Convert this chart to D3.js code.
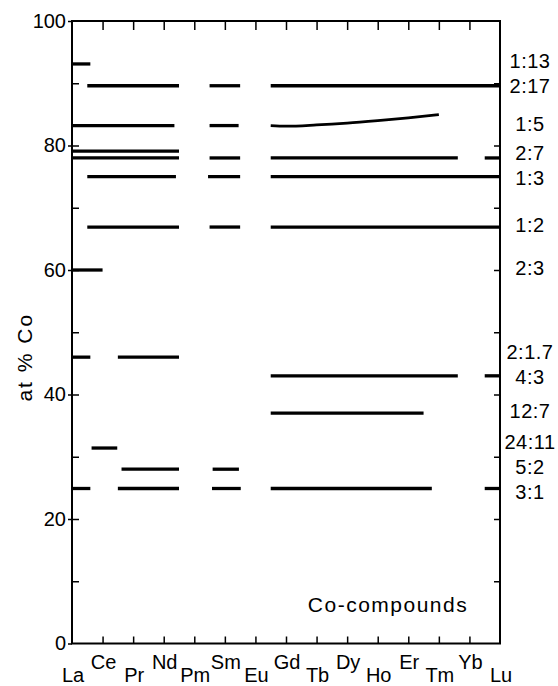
<!DOCTYPE html>
<html>
<head>
<meta charset="utf-8">
<script src="https://cdn.jsdelivr.net/npm/d3@7/dist/d3.min.js"></script>
<style>
  html, body { margin: 0; padding: 0; background: #fff; }
  svg { display: block; font-family: "Liberation Sans", Arial, sans-serif; }
</style>
</head>
<body>
<svg id="chart" width="558" height="686"></svg>
<script>
// ---- data ----
const elements = ["La","Ce","Pr","Nd","Pm","Sm","Eu","Gd","Tb","Dy","Ho","Er","Tm","Yb","Lu"];
// compound names (R:Co), null = unlabeled
const compoundLabels = ["1:13","2:17","1:5",null,"2:7","1:3","1:2","2:3","2:1.7","4:3","12:7","24:11","5:2","3:1"];
// at % Co of each compound line
const compoundValues = [93.1, 89.6, 83.2, 79.1, 78.0, 75.0, 66.9, 60.0, 46.0, 43.0, 37.0, 31.4, 28.0, 24.9];
// extents of each line in element-index units (0 = La ... 14 = Lu)
const compoundRanges = [
  [[-0.5, 0.6]],
  [[0.5, 3.5], [4.5, 5.5], [6.5, 14.5]],
  [[-0.5, 3.35], [4.5, 5.45]],
  [[-0.5, 3.5]],
  [[-0.5, 3.5], [4.5, 5.5], [6.5, 12.62], [13.5, 14.5]],
  [[0.5, 3.4], [4.45, 5.5], [6.5, 14.5]],
  [[0.5, 3.5], [4.5, 5.5], [6.5, 14.5]],
  [[-0.5, 1.0]],
  [[-0.5, 0.6], [1.5, 3.5]],
  [[6.5, 12.62], [13.5, 14.5]],
  [[6.5, 11.5]],
  [[0.64, 1.48]],
  [[1.62, 3.5], [4.6, 5.46]],
  [[-0.5, 0.6], [1.5, 3.5], [4.58, 5.52], [6.5, 11.77], [13.5, 14.5]]
];
// 1:5 homogeneity range for the heavy rare earths (Gd ... Tm)
const curveIndex = [6.5, 7, 8, 9, 10, 11, 12];
const curveValues = [83.2, 83.1, 83.3, 83.6, 84.0, 84.45, 84.95];
const yMajorTicks = [0, 20, 40, 60, 80, 100];
const yTitle = "at % Co";
const panelNote = "Co-compounds";

// ---- layout ----
const svg = d3.select("#chart");
const x = d3.scaleLinear().domain([0, 14]).range([72, 500]);
const y = d3.scaleLinear().domain([0, 100]).range([643.5, 21]);
const clampX = v => Math.max(0, Math.min(14, v));

// frame
svg.append("rect")
  .attr("x", x(0)).attr("y", y(100))
  .attr("width", x(14) - x(0)).attr("height", y(0) - y(100))
  .attr("fill", "none").attr("stroke", "#000").attr("stroke-width", 2);

function styleAxis(g) {
  g.select(".domain").remove();
  g.selectAll(".tick line").attr("stroke", "#000").attr("stroke-width", 1.5);
  g.selectAll(".tick text").attr("fill", "#000").attr("font-size", 20)
    .attr("font-family", "'Liberation Sans', Arial, sans-serif");
}

// left axis: labelled major ticks (outward) + inward ticks every 10
svg.append("g").attr("transform", `translate(${x(0)},0)`)
  .call(d3.axisLeft(y).tickValues(yMajorTicks).tickSize(4).tickPadding(2).tickFormat(d3.format("d")))
  .call(styleAxis);
svg.append("g").attr("transform", `translate(${x(0)},0)`)
  .call(d3.axisLeft(y).tickValues(d3.range(10, 100, 10)).tickSize(-7).tickFormat(""))
  .call(styleAxis);
// right axis ticks
svg.append("g").attr("transform", `translate(${x(14)},0)`)
  .call(d3.axisRight(y).tickValues(d3.range(10, 100, 10)).tickSize(-6).tickFormat(""))
  .call(styleAxis);
// top & bottom ticks at element positions
svg.append("g").attr("transform", `translate(0,${y(100)})`)
  .call(d3.axisTop(x).tickValues(d3.range(1, 14)).tickSize(-9).tickFormat(""))
  .call(styleAxis);
svg.append("g").attr("transform", `translate(0,${y(0)})`)
  .call(d3.axisBottom(x).tickValues(d3.range(1, 14)).tickSize(-7).tickFormat(""))
  .call(styleAxis);

// element labels (staggered)
svg.append("g").selectAll("text").data(elements).join("text")
  .attr("x", (d, i) => x(i) + 1)
  .attr("y", (d, i) => i % 2 === 0 ? 682 : 668.5)
  .attr("text-anchor", "middle")
  .attr("font-size", 20)
  .text(d => d);

// compound lines
const segs = [];
compoundRanges.forEach((rs, ci) => rs.forEach(r => segs.push({ v: compoundValues[ci], a: clampX(r[0]), b: clampX(r[1]) })));
svg.append("g").selectAll("line").data(segs).join("line")
  .attr("x1", d => x(d.a)).attr("x2", d => x(d.b))
  .attr("y1", d => y(d.v)).attr("y2", d => y(d.v))
  .attr("stroke", "#000").attr("stroke-width", 3.3);

// 1:5 curve
svg.append("path")
  .datum(curveIndex.map((c, i) => [c, curveValues[i]]))
  .attr("fill", "none").attr("stroke", "#000").attr("stroke-width", 2.8)
  .attr("d", d3.line().x(d => x(d[0])).y(d => y(d[1])).curve(d3.curveMonotoneX));

// right labels, relaxed to avoid overlap
const labs = compoundLabels.map((t, i) => ({ t, yy: y(compoundValues[i]) - 2 })).filter(d => d.t);
const gap = 25;
for (let it = 0; it < 200; it++) {
  for (let i = 1; i < labs.length; i++) {
    const d = labs[i].yy - labs[i - 1].yy;
    if (d < gap) { const m = (gap - d) / 2; labs[i - 1].yy -= m; labs[i].yy += m; }
  }
}
svg.append("g").selectAll("text").data(labs).join("text")
  .attr("x", 530).attr("y", d => d.yy)
  .attr("dy", "0.36em")
  .attr("text-anchor", "middle")
  .attr("font-size", 20)
  .attr("letter-spacing", 0.5)
  .text(d => d.t);

// y title
svg.append("text")
  .attr("transform", `translate(32,${(y(0) + y(100)) / 2 + 25}) rotate(-90)`)
  .attr("text-anchor", "middle")
  .attr("font-size", 21)
  .attr("letter-spacing", 2)
  .text(yTitle);

// panel note
svg.append("text")
  .attr("x", 388).attr("y", 611.5)
  .attr("text-anchor", "middle")
  .attr("font-size", 21)
  .attr("letter-spacing", 1.5)
  .text(panelNote);
</script>
</body>
</html>
